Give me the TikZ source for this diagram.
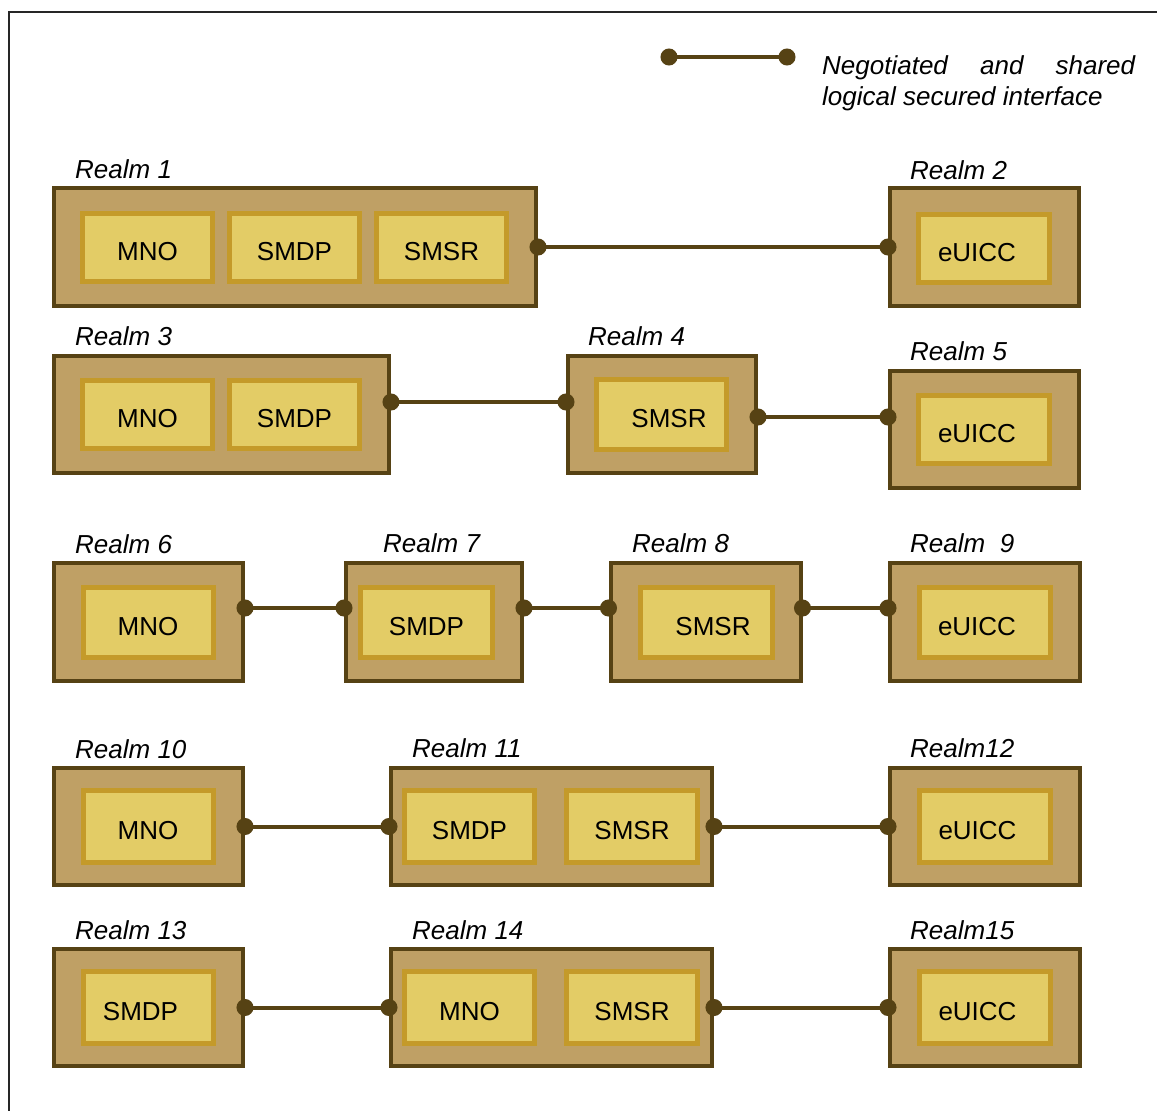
\documentclass[tikz,border=0pt]{standalone}
\usepackage{fontspec}
\setmainfont{Liberation Sans}
\usetikzlibrary{arrows.meta}
\definecolor{dk}{RGB}{86,66,20}
\definecolor{tanfill}{RGB}{191,160,101}
\definecolor{infill}{RGB}{227,204,102}
\definecolor{inborder}{RGB}{196,154,42}
\newcommand\bigfont{\fontsize{26}{31}\selectfont}
\tikzset{
  realm/.style={draw=dk, fill=tanfill, line width=4pt, inner sep=0pt},
  part/.style={draw=inborder, fill=infill, line width=5pt, inner sep=0pt,
    minimum height=68pt, minimum width=130pt, text height=26pt, text depth=0pt},
  rlabel/.style={anchor=base west, inner sep=0pt, font=\bigfont\itshape},
  link/.style={draw=dk, line width=4pt, {Circle[length=17pt]}-{Circle[length=17pt]},
    shorten <=-8.5pt, shorten >=-8.5pt},
}
\begin{document}
\begin{tikzpicture}[x=1pt,y=-1pt,font=\bigfont]
\useasboundingbox (0,0) rectangle (1157,1111);
% frame
\draw[line width=1.5pt, black!85] (9,1111) -- (9,12) -- (1157,12);
% legend
\coordinate (la) at (669,57);
\coordinate (lb) at (787,57);
\draw[link] (la) -- (lb);
\node[rlabel] (lg1) at (822,74) {\hbox to 313pt{Negotiated\hfill and\hfill shared}};
\node[rlabel] (lg2) at (822,105) {logical secured interface};

% ---------- Row 1
\node[realm, minimum width=482pt, minimum height=118pt] (r1) at (295,247) {};
\node[realm, minimum width=189pt, minimum height=118pt] (r2) at (984.5,247) {};
\node[part] (r1a) at (147.5,247) {MNO};
\node[part] (r1b) at (294.5,247) {SMDP};
\node[part] (r1c) at (441.5,247) {SMSR};
\node[part, minimum width=131pt] (r2a) at (984,248) {eUICC\hspace*{14pt}};
\node[rlabel] (l1) at (75,178) {Realm 1};
\node[rlabel] (l2) at (910,179) {Realm 2};
\draw[link] (r1.east) -- (r2.west);

% ---------- Row 2
\node[realm, minimum width=335pt, minimum height=117pt] (r3) at (221.5,414.5) {};
\node[realm, minimum width=188pt, minimum height=117pt] (r4) at (662,414.5) {};
\node[realm, minimum width=189pt, minimum height=117pt] (r5) at (984.5,429.5) {};
\node[part] (r3a) at (147.5,414.5) {MNO};
\node[part] (r3b) at (294.5,414.5) {SMDP};
\node[part, minimum height=70pt] (r4a) at (661.5,414.5) {\hspace*{15pt}SMSR};
\node[part, minimum width=131pt] (r5a) at (984,429.5) {eUICC\hspace*{14pt}};
\node[rlabel] (l3) at (75,345) {Realm 3};
\node[rlabel] (l4) at (588,345) {Realm 4};
\node[rlabel] (l5) at (910,360) {Realm 5};
\draw[link] ([yshift=12.5pt]r3.east) -- ([yshift=12.5pt]r4.west);
\draw[link] ([yshift=-2.5pt]r4.east) -- ([yshift=12.5pt]r5.west);

% ---------- Row 3
\node[realm, minimum width=189pt, minimum height=118pt] (r6) at (148.5,622) {};
\node[realm, minimum width=176pt, minimum height=118pt] (r7) at (434,622) {};
\node[realm, minimum width=190pt, minimum height=118pt] (r8) at (705.5,622) {};
\node[realm, minimum width=190pt, minimum height=118pt] (r9) at (985,622) {};
\node[part, minimum height=70pt] (r6a) at (148,622) {MNO};
\node[part, minimum height=70pt, minimum width=132pt] (r7a) at (426.5,622) {SMDP};
\node[part, minimum height=70pt, minimum width=132pt] (r8a) at (706,622) {\hspace*{14pt}SMSR};
\node[part, minimum height=70pt, minimum width=131pt] (r9a) at (985,622) {eUICC\hspace*{16pt}};
\node[rlabel] (l6) at (75,553) {Realm 6};
\node[rlabel] (l7) at (383,552) {Realm 7};
\node[rlabel] (l8) at (632,552) {Realm 8};
\node[rlabel] (l9) at (910,552) {Realm\ \ 9};
\draw[link] ([yshift=14pt]r6.east) -- ([yshift=14pt]r7.west);
\draw[link] ([yshift=14pt]r7.east) -- ([yshift=14pt]r8.west);
\draw[link] ([yshift=14pt]r8.east) -- ([yshift=14pt]r9.west);

% ---------- Row 4
\node[realm, minimum width=189pt, minimum height=117pt] (r10) at (148.5,826.5) {};
\node[realm, minimum width=321pt, minimum height=117pt] (r11) at (551.5,826.5) {};
\node[realm, minimum width=190pt, minimum height=117pt] (r12) at (985,826.5) {};
\node[part, minimum height=72pt] (r10a) at (148,826.5) {MNO};
\node[part, minimum height=72pt] (r11a) at (469.5,826.5) {SMDP};
\node[part, minimum height=72pt, minimum width=131pt] (r11b) at (632,826.5) {SMSR};
\node[part, minimum height=72pt, minimum width=131pt] (r12a) at (984.5,826.5) {eUICC\hspace*{14pt}};
\node[rlabel] (l10) at (75,758) {Realm 10};
\node[rlabel] (l11) at (412,757) {Realm 11};
\node[rlabel] (l12) at (910,757) {Realm12};
\draw[link] (r10.east) -- (r11.west);
\draw[link] (r11.east) -- (r12.west);

% ---------- Row 5
\node[realm, minimum width=189pt, minimum height=117pt] (r13) at (148.5,1007.5) {};
\node[realm, minimum width=321pt, minimum height=117pt] (r14) at (551.5,1007.5) {};
\node[realm, minimum width=190pt, minimum height=117pt] (r15) at (985,1007.5) {};
\node[part, minimum height=72pt] (r13a) at (148,1007.5) {SMDP\hspace*{15pt}};
\node[part, minimum height=72pt] (r14a) at (469.5,1007.5) {MNO};
\node[part, minimum height=72pt, minimum width=131pt] (r14b) at (632,1007.5) {SMSR};
\node[part, minimum height=72pt, minimum width=131pt] (r15a) at (984.5,1007.5) {eUICC\hspace*{14pt}};
\node[rlabel] (l13) at (75,939) {Realm 13};
\node[rlabel] (l14) at (412,939) {Realm 14};
\node[rlabel] (l15) at (910,939) {Realm15};
\draw[link] (r13.east) -- (r14.west);
\draw[link] (r14.east) -- (r15.west);
\end{tikzpicture}
\end{document}
